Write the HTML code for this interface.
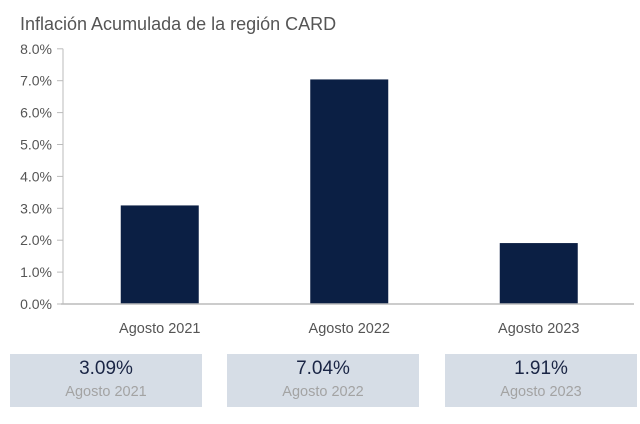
<!DOCTYPE html>
<html><head><meta charset="utf-8"><style>
body{margin:0;background:#fff;width:640px;height:424px;overflow:hidden;font-family:"Liberation Sans",sans-serif}
svg{position:absolute;left:0;top:0}
.box{position:absolute;top:354px;height:53px;width:192px;background:#d6dde6;text-align:center}
.v{font-size:19px;color:#1a2545;margin-top:4px;line-height:22px}
.l{font-size:14.5px;color:#a3a3a3;margin-top:4px}
</style></head><body>
<svg width="640" height="424" id="chart">
<text x="20" y="30" font-size="18" fill="#555">Inflación Acumulada de la región CARD</text>
</svg>
<div class="box" style="left:10px"><div class="v">3.09%</div><div class="l">Agosto 2021</div></div>
<div class="box" style="left:227px"><div class="v">7.04%</div><div class="l">Agosto 2022</div></div>
<div class="box" style="left:445px"><div class="v">1.91%</div><div class="l">Agosto 2023</div></div>
<script>
const categories=["Agosto 2021","Agosto 2022","Agosto 2023"];
const values=[3.09,7.04,1.91];
const ticks=[0,1,2,3,4,5,6,7,8];
const svg=document.getElementById('chart');
const NS='http://www.w3.org/2000/svg';
const y0=304,pxPer=31.9,x0=65,band=189.5,bw=78;
const y=v=>y0-v*pxPer;
const xc=i=>x0+band*(i+0.5);
function mk(t,a){const e=document.createElementNS(NS,t);for(const k in a)e.setAttribute(k,a[k]);svg.appendChild(e);return e;}
ticks.forEach(t=>{
 const e=mk('text',{x:52,y:y(t)+5,'font-size':14,fill:'#555','text-anchor':'end'});
 e.textContent=t.toFixed(1)+'%';
 
 
 const k=mk('line',{x1:57,x2:63,y1:y(t),y2:y(t),stroke:'#bbb'});
 
 
});
const ax=mk('line',{x1:63,x2:63,y1:y(8),y2:y0,stroke:'#bbb'});


values.forEach((v,i)=>{
 const r=mk('rect',{x:xc(i)-bw/2,y:y(v),width:bw,height:v*pxPer,fill:'#0b1f44'});
 
 
 const t=mk('text',{x:xc(i),y:333,'font-size':14.5,fill:'#555','text-anchor':'middle'});
 t.textContent=categories[i];
 
 
});
const xa=mk('line',{x1:61,x2:634,y1:y0,y2:y0,stroke:'#bbb','stroke-width':1.5});


</script>
</body></html>
